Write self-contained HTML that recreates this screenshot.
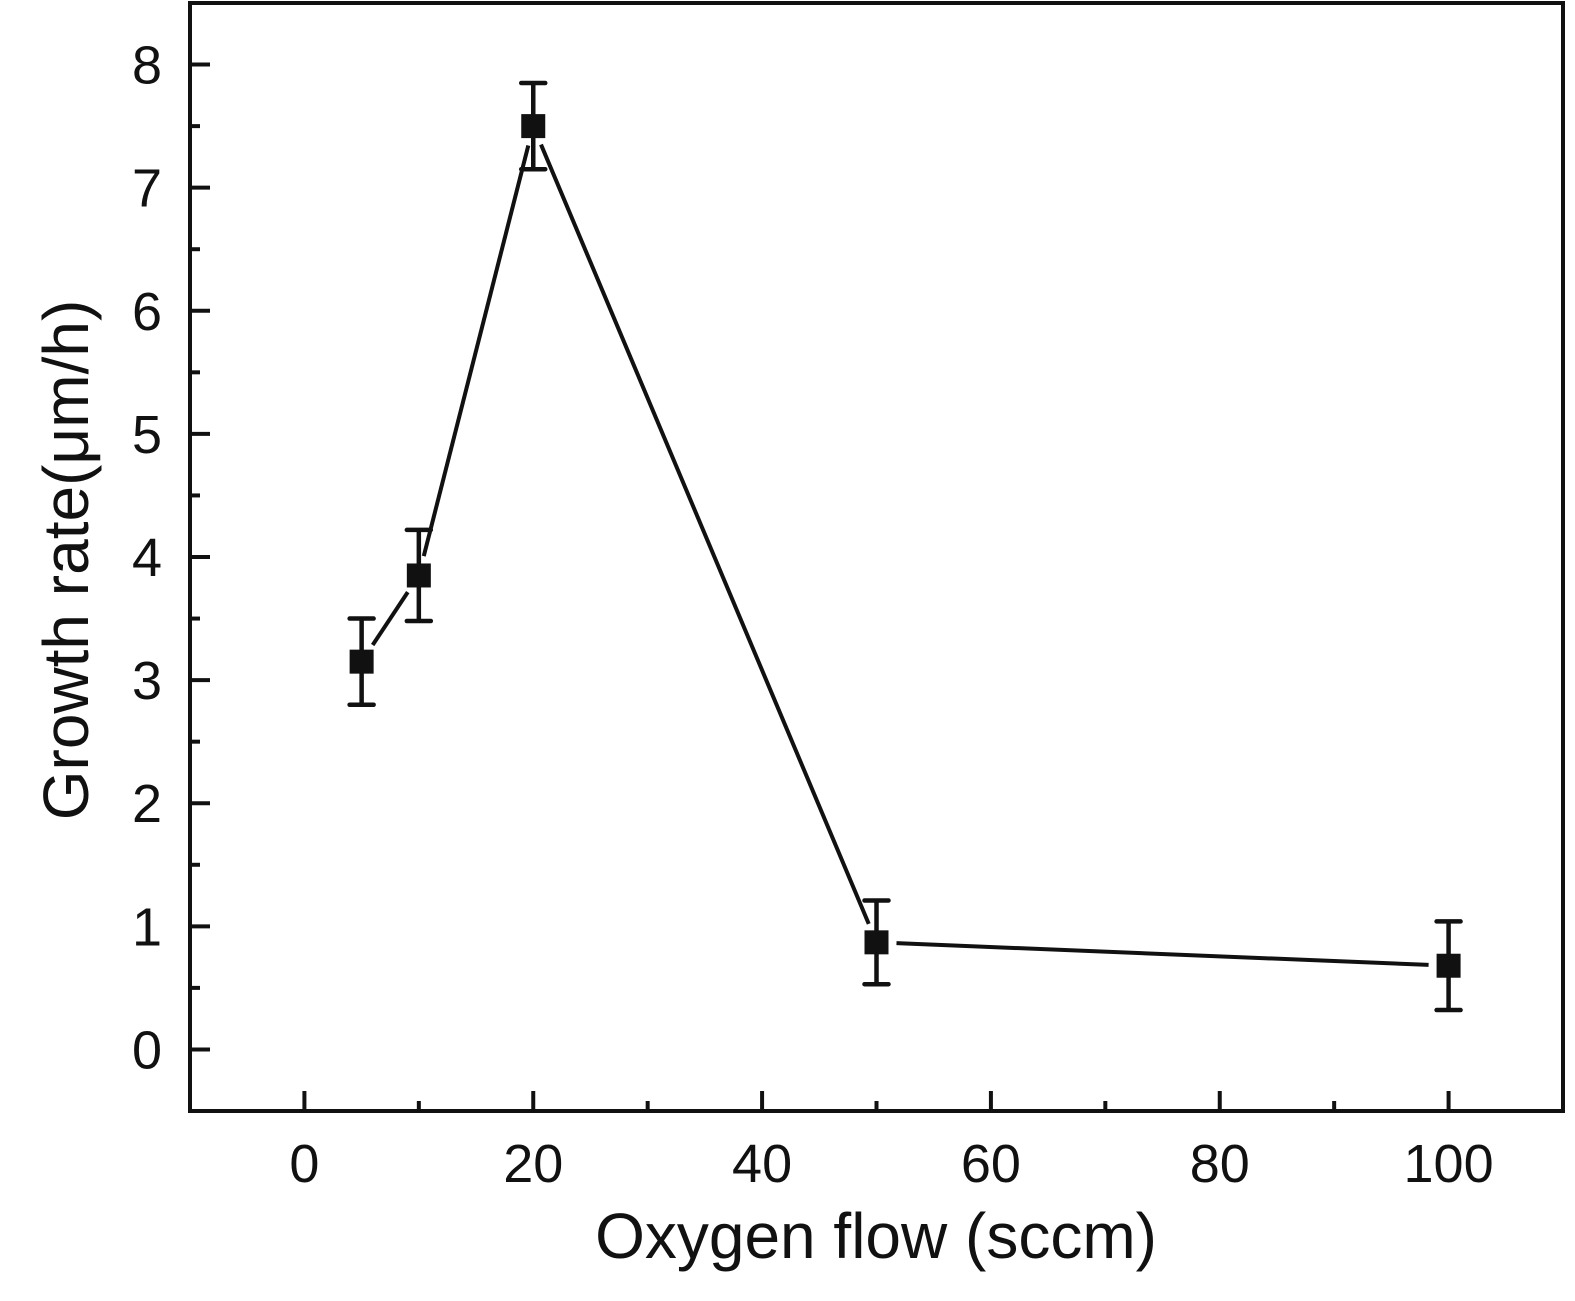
<!DOCTYPE html>
<html><head><meta charset="utf-8"><style>
body{margin:0;background:#fff;}
svg text{font-family:"Liberation Sans",sans-serif;fill:#111;}
</style></head><body>
<svg id="chart" width="1575" height="1296" xmlns="http://www.w3.org/2000/svg">
<rect x="190" y="3" width="1373" height="1108" fill="none" stroke="#111" stroke-width="4"/>
<g id="axes"></g>
<g id="series"></g>
<text x="876" y="1258" font-size="64" text-anchor="middle">Oxygen flow (sccm)</text>
<text transform="translate(88,560) rotate(-90)" font-size="64" text-anchor="middle">Growth rate(μm/h)</text>
</svg>
<script>
const xValues=[5,10,20,50,100];
const yValues=[3.15,3.85,7.5,0.87,0.68];
const yErrors=[0.35,0.37,0.35,0.34,0.36];
const xTicks=[0,20,40,60,80,100];
const yTicks=[0,1,2,3,4,5,6,7,8];
const L=190,R=1563,T=3,B=1111;
const xMin=-10,xMax=110,yMin=-0.5,yMax=8.5;
const sx=v=>L+(v-xMin)/(xMax-xMin)*(R-L);
const sy=v=>B-(v-yMin)/(yMax-yMin)*(B-T);
const NS="http://www.w3.org/2000/svg";
const axes=document.getElementById('axes'),ser=document.getElementById('series');
function mk(p,tag,a){const e=document.createElementNS(NS,tag);for(const k in a)e.setAttribute(k,a[k]);p.appendChild(e);return e;}
xTicks.forEach(t=>{
 const l=mk(axes,'line',{x1:sx(t),x2:sx(t),y1:B,y2:B-20,stroke:'#111','stroke-width':4});
 
 
 const m=mk(axes,'line',{x1:sx(t+10),x2:sx(t+10),y1:B,y2:B-10,stroke:'#111','stroke-width':4});
 
 
 const tx=mk(axes,'text',{x:sx(t),y:1182,'font-size':54,'text-anchor':'middle'});tx.textContent=t;
 
 
});
yTicks.forEach(t=>{
 const l=mk(axes,'line',{x1:L,x2:L+20,y1:sy(t),y2:sy(t),stroke:'#111','stroke-width':4});
 
 
 const m=mk(axes,'line',{x1:L,x2:L+10,y1:sy(t+0.5),y2:sy(t+0.5),stroke:'#111','stroke-width':4});
 
 
 const tx=mk(axes,'text',{x:162,y:sy(t)+19,'font-size':54,'text-anchor':'end'});tx.textContent=t;
 
 
});
for(let i=0;i<xValues.length-1;i++){
 const x1=sx(xValues[i]),y1=sy(yValues[i]),x2=sx(xValues[i+1]),y2=sy(yValues[i+1]);
 const d=Math.hypot(x2-x1,y2-y1),g=20,ux=(x2-x1)/d,uy=(y2-y1)/d;
 const s=mk(ser,'line',{x1:x1+ux*g,y1:y1+uy*g,x2:x2-ux*g,y2:y2-uy*g,stroke:'#111','stroke-width':4});
 
 
}
xValues.forEach((xv,i)=>{
 const x=sx(xv),y=sy(yValues[i]),yt=sy(yValues[i]+yErrors[i]),yb=sy(yValues[i]-yErrors[i]);
 const g=mk(ser,'g',{});
 
 
 mk(g,'line',{x1:x,x2:x,y1:yt,y2:yb,stroke:'#111','stroke-width':4.5});
 mk(g,'line',{x1:x-12,x2:x+12,y1:yt,y2:yt,stroke:'#111','stroke-width':4.5,'stroke-linecap':'round'});
 mk(g,'line',{x1:x-12,x2:x+12,y1:yb,y2:yb,stroke:'#111','stroke-width':4.5,'stroke-linecap':'round'});
 mk(g,'rect',{x:x-12,y:y-12,width:24,height:24,fill:'#111'});
});
</script>
</body></html>
